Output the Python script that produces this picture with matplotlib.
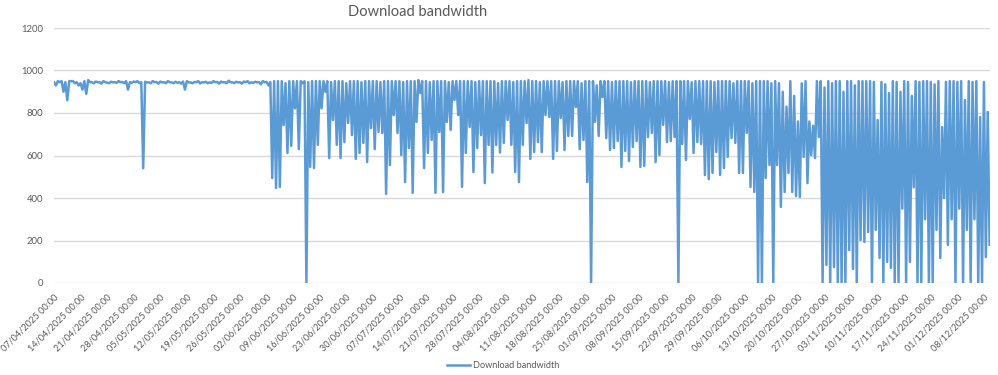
import matplotlib
matplotlib.use("Agg")
import matplotlib.pyplot as plt
import matplotlib.dates as mdates
import numpy as np
import pandas as pd

plt.rcParams['font.family'] = ['Lato', 'DejaVu Sans']

title = "Download bandwidth"
series_name = "Download bandwidth"
start_date = "2025-04-07 00:00"
y_ticks = [0, 200, 400, 600, 800, 1000, 1200]

# Daily high readings (one per day, from 07/04/2025)
tops = [
    945, 950, 950, 945, 950, 950, 945, 940, 950, 955,
    945, 948, 945, 950, 943, 947, 945, 950, 946, 950,
    945, 948, 950, 945, 947, 944, 950, 946, 948, 945,
    950, 944, 947, 945, 948, 950, 944, 946, 950, 945,
    947, 944, 950, 946, 948, 945, 952, 944, 947, 945,
    948, 950, 944, 947, 945, 950, 946, 945, 950, 950,
    950, 940, 950, 950, 950, 950, 950, 945, 950, 950,
    950, 950, 950, 945, 950, 950, 950, 940, 950, 950,
    950, 945, 950, 950, 950, 950, 945, 950, 950, 950,
    950, 950, 945, 950, 950, 950, 955, 950, 950, 945,
    950, 950, 950, 950, 945, 950, 950, 950, 950, 950,
    950, 945, 950, 950, 950, 950, 950, 940, 950, 950,
    950, 945, 950, 950, 950, 955, 950, 950, 945, 950,
    950, 950, 950, 950, 945, 950, 950, 950, 950, 940,
    950, 950, 950, 930, 950, 950, 950, 945, 950, 950,
    950, 950, 945, 950, 950, 950, 950, 945, 950, 950,
    950, 950, 945, 950, 950, 950, 950, 950, 945, 950,
    950, 950, 950, 950, 945, 950, 950, 950, 950, 940,
    950, 950, 950, 950, 940, 950, 950, 950, 950, 940,
    950, 940, 900, 830, 950, 880, 760, 940, 950, 760,
    740, 950, 950, 920, 950, 940, 950, 950, 900, 950,
    950, 930, 950, 950, 950, 950, 946, 767, 946, 935,
    894, 950, 946, 900, 950, 946, 880, 950, 946, 950,
    950, 946, 935, 950, 734, 946, 950, 950, 946, 950,
    861, 950, 946, 950, 781, 946, 805,
]

# Daily low readings (one per day, from 07/04/2025)
dips = [
    930, 945, 900, 860, 950, 940, 930, 910, 890, 945,
    940, 945, 938, 945, 940, 944, 942, 945, 940, 910,
    942, 945, 940, 540, 944, 940, 945, 938, 944, 940,
    945, 940, 942, 938, 910, 944, 940, 945, 939, 944,
    940, 942, 945, 938, 944, 940, 945, 941, 944, 938,
    945, 940, 942, 944, 935, 945, 930, 494, 447, 452,
    743, 612, 645, 822, 630, 940, 0, 546, 541, 650,
    822, 900, 588, 767, 650, 588, 663, 753, 696, 584,
    612, 659, 569, 729, 630, 711, 706, 419, 555, 790,
    706, 602, 475, 635, 424, 758, 894, 541, 612, 673,
    424, 711, 428, 758, 720, 861, 790, 452, 612, 734,
    522, 635, 696, 470, 650, 520, 650, 614, 659, 767,
    650, 522, 475, 650, 753, 584, 616, 663, 616, 790,
    781, 584, 621, 776, 626, 692, 692, 828, 630, 673,
    475, 0, 758, 692, 875, 682, 626, 635, 668, 546,
    621, 574, 640, 668, 546, 551, 687, 706, 569, 602,
    744, 663, 668, 687, 0, 654, 579, 772, 612, 663,
    654, 508, 489, 518, 616, 508, 541, 593, 682, 659,
    518, 518, 706, 452, 428, 0, 0, 494, 555, 0,
    555, 358, 428, 518, 428, 409, 405, 593, 470, 602,
    588, 687, 0, 85, 0, 75, 0, 0, 0, 155,
    66, 0, 202, 193, 240, 0, 250, 118, 0, 99,
    71, 0, 0, 350, 0, 99, 450, 0, 0, 300,
    0, 0, 250, 118, 400, 179, 300, 0, 350, 0,
    250, 0, 300, 0, 0, 122, 180,
]

values = np.column_stack([tops, dips]).ravel()
times = pd.date_range(start_date, periods=len(values), freq="12h")

W, H = 998, 375
fig = plt.figure(figsize=(W / 100, H / 100), dpi=100)
ax = fig.add_axes([54 / W, 1 - 283 / H, (990 - 54) / W, (283 - 28) / H])

line_color = "#5B9BD5"
text_color = "#595959"
grid_color = "#D9D9D9"

ax.plot(times, values, color=line_color, lw=1.8, label=series_name,
        solid_joinstyle="round")

start = pd.Timestamp(start_date)
ax.set_xlim(start, start + pd.Timedelta(days=246.6))
ax.set_ylim(0, 1200)
ax.set_yticks(y_ticks)
ax.yaxis.grid(True, color=grid_color, lw=1)
ax.set_axisbelow(True)
for s in ax.spines.values():
    s.set_visible(False)

ax.set_xticks(pd.date_range(start_date, "2025-12-08", freq="7D"))
ax.xaxis.set_major_formatter(mdates.DateFormatter("%d/%m/%Y %H:%M"))
ax.tick_params(axis="both", length=0, colors=text_color)
ax.tick_params(axis="y", pad=8, labelsize=6.8)
ax.tick_params(axis="x", pad=7, labelsize=6.6)
for lbl in ax.get_xticklabels():
    lbl.set_rotation(45)
    lbl.set_ha("right")
    lbl.set_va("top")
    lbl.set_rotation_mode("anchor")

fig.text(418 / W, 1 - 12 / H, title, ha="center", va="center",
         fontsize=10.5, color=text_color)

fig.legend(loc="center", bbox_to_anchor=(503 / W, 1 - 366 / H), frameon=False,
           fontsize=6.6, labelcolor=text_color, handlelength=2.6,
           handletextpad=0.3)

fig.savefig("out.png", dpi=100)
